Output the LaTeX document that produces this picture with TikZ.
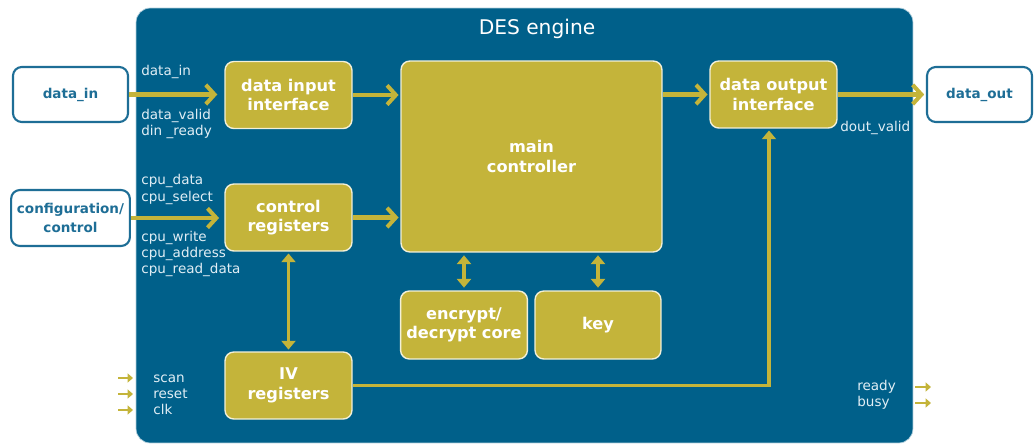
\documentclass[tikz,border=0pt]{standalone}
\usepackage{fontspec}
\setmainfont{DejaVu Sans}
\usetikzlibrary{arrows.meta}
\definecolor{desblue}{RGB}{0,96,138}
\definecolor{desgold}{RGB}{196,180,58}
\definecolor{portline}{RGB}{30,110,150}
\definecolor{labeltxt}{RGB}{225,238,245}

\begin{document}
\begin{tikzpicture}[x=0.02cm,y=-0.02cm,>=Latex]
  \tikzstyle{blk}=[draw=white!80!desgold,line width=0.8pt,fill=desgold,rounded corners=5pt,align=center,text=white,font=\bfseries\fontsize{9.2}{11}\selectfont,minimum width=2.54cm,minimum height=1.34cm]
  \tikzstyle{port}=[draw=portline,line width=1.2pt,fill=white,rounded corners=5pt,align=center,text=portline,font=\bfseries\fontsize{7.7}{10.5}\selectfont,minimum width=2.3cm,minimum height=1.1cm]
  \tikzstyle{sig}=[anchor=west,text=labeltxt,font=\fontsize{7.7}{9.2}\selectfont,align=left,inner sep=0pt]
  \tikzstyle{bus}=[draw=desgold,line width=2.3pt,-{Straight Barb[length=5pt,width=11pt]}]
  \tikzstyle{link}=[draw=desgold,line width=2.2pt,{Triangle[length=5pt,width=8pt]}-{Triangle[length=5pt,width=8pt]}]
  \tikzstyle{pin}=[draw=desgold,line width=1.4pt,-{Triangle[length=3pt,width=5pt]}]
  \useasboundingbox (0,0) rectangle (1036,444);
  \node[fill=desblue,draw=white!70!desblue,rounded corners=8pt,minimum width=15.54cm,minimum height=8.7cm] (engine) at (524.5,225.5) {};
  \node[text=white,font=\fontsize{11.5}{13}\selectfont] (title) at (537,29) {DES engine};
  % outside ports
  \node[port] (datain) at (70.5,94.5) {data\_in};
  \node[port,minimum height=1.12cm] (config) at (70.5,218) {configuration/\\control};
  \node[port,minimum width=2.1cm] (dataout) at (979.5,94.5) {data\_out};
  % blocks inside the engine
  \node[blk] (dii) at (288.5,95) {data input\\interface};
  \node[blk] (creg) at (288.5,217.5) {control\\registers};
  \node[blk,minimum width=5.22cm,minimum height=3.82cm] (main) at (531.5,156.5) {main\\controller};
  \node[blk] (doi) at (773.5,94.5) {data output\\interface};
  \node[blk,minimum width=2.52cm,minimum height=1.36cm] (enc) at (464,325) {encrypt/\\decrypt core};
  \node[blk,minimum width=2.52cm,minimum height=1.36cm] (key) at (598,325) {key};
  \node[blk] (iv) at (288.5,385.5) {IV\\registers};
  % data paths
  \draw[bus,shorten >=4pt] (datain.east) -- (datain.east -| dii.west);
  \draw[bus,shorten >=1pt] (dii.east) -- (dii.east -| main.west);
  \draw[bus,shorten >=3pt] (config.east) -- (config.east -| creg.west);
  \draw[bus,shorten >=1pt] (creg.east) -- (creg.east -| main.west);
  \draw[bus,shorten >=1pt] (main.east |- doi) -- (doi.west);
  \draw[bus,shorten >=1pt] (doi.east) -- (dataout.west);
  \draw[link,shorten <=1pt,shorten >=1pt] (creg.south) -- (iv.north);
  \draw[link,shorten <=1.5pt,shorten >=1.5pt] (main.south -| enc) -- (enc.north);
  \draw[link,shorten <=1.5pt,shorten >=1.5pt] (main.south -| key) -- (key.north);
  \draw[draw=desgold,line width=2.2pt,-{Triangle[length=5pt,width=8pt]},shorten >=1pt] (iv.east) -| ([xshift=-0.09cm]doi.south);
  % signal names
  \node[sig] (lin) at (141,72) {data\_in};
  \node[sig] (lvalid) at (141,124) {data\_valid\\din \_ready};
  \node[sig] (lcpua) at (141,189.5) {cpu\_data\\cpu\_select};
  \node[sig] (lcpub) at (141,254) {cpu\_write\\cpu\_address\\cpu\_read\_data};
  \node[sig] (lctl) at (153,395) {scan\\reset\\clk};
  \node[sig] (lstat) at (857,395) {ready\\busy};
  \node[sig] (ldout) at (840,128) {dout\_valid};
  % single pins
  \foreach \i/\y in {1/378,2/394,3/410} {
    \coordinate (pa\i) at (118,\y);
    \coordinate (pb\i) at (133,\y);
    \draw[pin] (pa\i) -- (pb\i);
  }
  \foreach \i/\y in {1/387,2/403} {
    \coordinate (qa\i) at (915,\y);
    \coordinate (qb\i) at (931,\y);
    \draw[pin] (qa\i) -- (qb\i);
  }
\end{tikzpicture}
\end{document}
